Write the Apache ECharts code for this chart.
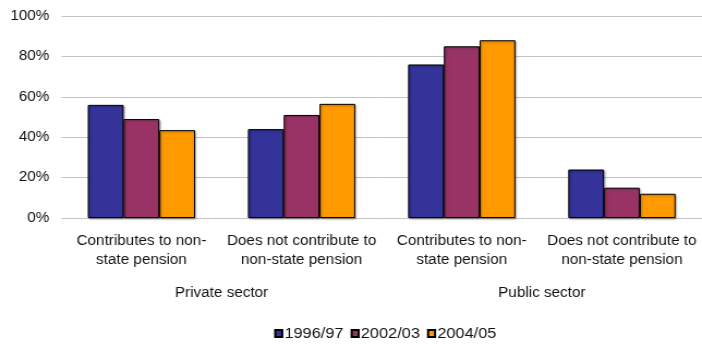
<!DOCTYPE html>
<html>
<head>
<meta charset="utf-8">
<script src="https://cdn.jsdelivr.net/npm/echarts@6/dist/echarts.min.js"></script>
<style>
  html, body { margin: 0; padding: 0; background: #fff; overflow: hidden; }
  #wrap { width: 702px; height: 345px; overflow: hidden; }
  /* the chart is drawn on a slightly narrower canvas and stretched horizontally */
  #chart { width: 644px; height: 345px; transform: scaleX(1.09); transform-origin: 0 0; }
</style>
</head>
<body>
<div id="wrap"><div id="chart"></div></div>
<script>
// Employees by pension contribution status, by sector
const categories = [
  'Contributes to non-\nstate pension',
  'Does not contribute to\nnon-state pension',
  'Contributes to non-\nstate pension',
  'Does not contribute to\nnon-state pension'
];
const sectors = ['Private sector', 'Public sector'];
const seriesNames = ['1996/97', '2002/03', '2004/05'];
const values1996 = [56, 44, 76, 24];
const values2002 = [49, 51, 85, 15];
const values2004 = [43.5, 56.5, 88, 12];
const yTicks = [0, 20, 40, 60, 80, 100];

const colors = ['#333399', '#993366', '#FF9900'];
const font = "'Liberation Sans', Arial, sans-serif";
const textColor = '#111';

const chart = echarts.init(document.getElementById('chart'), null, { renderer: 'canvas' });

const barStyle = (c) => ({
  color: c,
  borderColor: '#000',
  borderWidth: 1,
  shadowColor: 'rgba(0,0,0,0.35)',
  shadowBlur: 2,
  shadowOffsetX: 1,
  shadowOffsetY: 1
});

const allValues = [values1996, values2002, values2004];

chart.setOption({
  animation: false,
  textStyle: { fontFamily: font },
  grid: { left: 56.3, top: 16, width: 600, height: 202, containLabel: false },
  legend: {
    data: seriesNames,
    left: 246.5,
    top: 321,
    itemWidth: 6.4,
    itemHeight: 7,
    itemGap: 6.5,
    icon: 'rect',
    textStyle: { fontSize: 15, color: textColor, fontFamily: font, padding: [0, 0, 0, -3] }
  },
  xAxis: [
    {
      type: 'category',
      data: categories,
      axisLine: { show: false },
      axisTick: { show: false },
      axisLabel: {
        interval: 0,
        margin: 14,
        fontSize: 14,
        lineHeight: 19,
        color: textColor,
        fontFamily: font
      }
    },
    {
      type: 'category',
      data: sectors,
      position: 'bottom',
      axisLine: { show: false },
      axisTick: { show: false },
      axisLabel: {
        interval: 0,
        margin: 67,
        fontSize: 14,
        lineHeight: 16,
        color: textColor,
        fontFamily: font
      }
    }
  ],
  yAxis: {
    type: 'value',
    min: yTicks[0],
    max: yTicks[yTicks.length - 1],
    interval: 20,
    axisLine: { show: false },
    axisTick: { show: false },
    splitLine: { lineStyle: { color: '#c4c4c4', width: 1 } },
    axisLabel: {
      margin: 11,
      fontSize: 14,
      color: textColor,
      fontFamily: font,
      formatter: '{value}%'
    }
  },
  series: seriesNames.map((name, i) => ({
    name: name,
    type: 'bar',
    xAxisIndex: 0,
    data: allValues[i],
    barGap: '0%',
    barCategoryGap: '33%',
    itemStyle: barStyle(colors[i])
  }))
});
</script>
</body>
</html>
